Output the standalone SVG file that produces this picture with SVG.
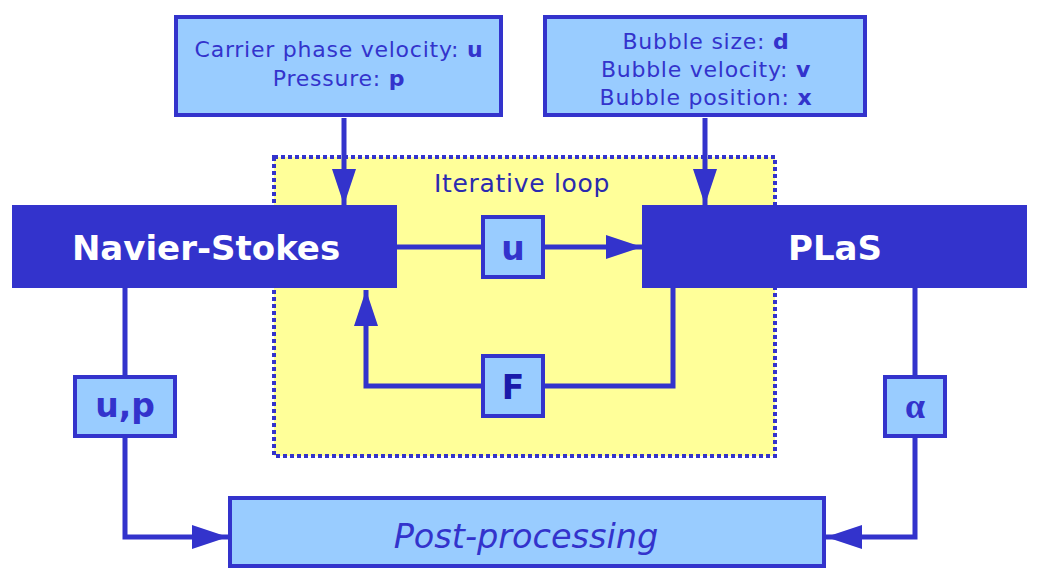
<svg xmlns="http://www.w3.org/2000/svg" width="1038" height="582" viewBox="0 0 1038 582">
<defs>
<style>
.box{fill:#99ccff;stroke:#3333cc;stroke-width:4}
.main{fill:#3333cc}
.line{fill:none;stroke:#3333cc;stroke-width:5}
.t{font-family:"DejaVu Sans",Verdana,sans-serif;fill:#3333cc;text-anchor:middle}
.lbl{font-size:22px;letter-spacing:0.75px}
.sym{font-size:33px;font-weight:bold}
.big{font-family:"DejaVu Sans",Verdana,sans-serif;font-weight:bold;fill:#ffffff;text-anchor:middle;font-size:34px}
</style>
<marker id="ah" viewBox="0 0 36 24" refX="36" refY="12" markerWidth="36" markerHeight="24" markerUnits="userSpaceOnUse" orient="auto">
<path d="M0,0 L36,12 L0,24 Z" fill="#3333cc"/>
</marker>
</defs>
<rect width="1038" height="582" fill="#ffffff"/>
<g id="loop">
<rect x="274" y="157" width="501" height="299" fill="#ffff99" stroke="#3333cc" stroke-width="4" stroke-dasharray="4 3"/>
<text class="t" x="522" y="192" font-size="25" letter-spacing="0.7" style="fill:#2a2ab0">Iterative loop</text>
</g>
<g id="connectors">
<path class="line" d="M344,118 V205" marker-end="url(#ah)"/>
<path class="line" d="M705,118 V205" marker-end="url(#ah)"/>
<path class="line" d="M396,247 H642" marker-end="url(#ah)"/>
<path class="line" d="M673,288 V386 H366 V290" marker-end="url(#ah)"/>
<path class="line" d="M125,288 V537 H228" marker-end="url(#ah)"/>
<path class="line" d="M915,288 V537 H826" marker-end="url(#ah)"/>
</g>
<g id="carrier">
<rect class="box" x="176" y="17" width="325" height="98"/>
<text class="t lbl" x="339" y="57">Carrier phase velocity: <tspan font-weight="bold">u</tspan></text>
<text class="t lbl" x="339" y="86">Pressure: <tspan font-weight="bold">p</tspan></text>
</g>
<g id="bubble">
<rect class="box" x="545" y="17" width="320" height="98"/>
<text class="t lbl" x="706" y="49">Bubble size: <tspan font-weight="bold">d</tspan></text>
<text class="t lbl" x="706" y="77">Bubble velocity: <tspan font-weight="bold">v</tspan></text>
<text class="t lbl" x="706" y="105">Bubble position: <tspan font-weight="bold">x</tspan></text>
</g>
<g id="navier">
<rect class="main" x="12" y="205" width="385" height="83"/>
<text class="big" x="206" y="260">Navier-Stokes</text>
</g>
<g id="plas">
<rect class="main" x="642" y="205" width="385" height="83"/>
<text class="big" x="835" y="260">PLaS</text>
</g>
<g id="u">
<rect class="box" x="483" y="217" width="60" height="60"/>
<text class="t sym" x="513" y="260">u</text>
</g>
<g id="F">
<rect class="box" x="483" y="356" width="60" height="60"/>
<text class="t sym" x="513" y="399" style="fill:#1a1aaa">F</text>
</g>
<g id="up">
<rect class="box" x="75" y="377" width="100" height="59"/>
<text class="t sym" x="125" y="417">u,p</text>
</g>
<g id="alpha">
<rect class="box" x="885" y="377" width="60" height="59"/>
<text class="t" x="915" y="418" font-size="36" font-weight="bold" style="font-family:'Liberation Serif','Times New Roman',serif">α</text>
</g>
<g id="post">
<rect class="box" x="230" y="498" width="594" height="68"/>
<text class="t" x="526" y="548" font-size="33.5" font-style="italic">Post-processing</text>
</g>
</svg>
